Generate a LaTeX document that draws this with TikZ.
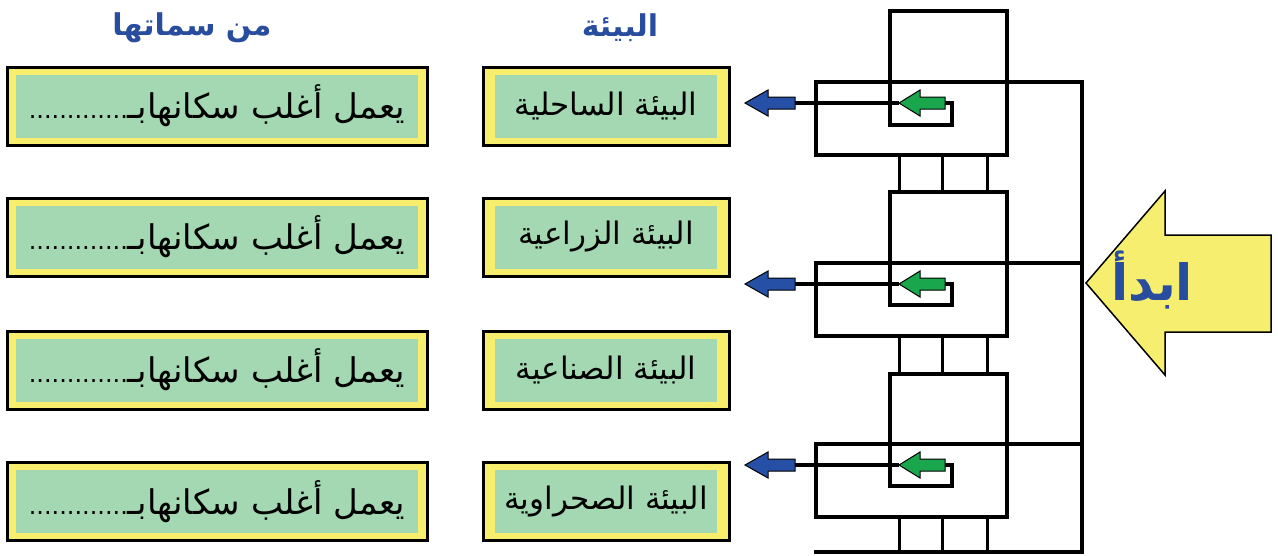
\documentclass[tikz,border=0pt]{standalone}
\usepackage{fontspec}
\newfontfamily\arabicfont[Script=Arabic]{DejaVu Sans}
\TeXXeTstate=1
\definecolor{boxyellow}{RGB}{246,238,108}
\definecolor{boxgreen}{RGB}{163,216,178}
\definecolor{hdrblue}{RGB}{40,76,158}
\definecolor{arrblue}{RGB}{38,80,165}
\definecolor{arrgreen}{RGB}{26,166,76}
\definecolor{bigyellow}{RGB}{246,238,110}
\begin{document}
\begin{tikzpicture}[x=1pt,y=-1pt,
  outerbox/.style={draw=black, line width=3pt, fill=boxyellow, inner sep=0pt},
  innerbox/.style={fill=boxgreen, inner sep=0pt, font=\arabicfont\fontsize{34}{38}\selectfont},
  envtext/.style={font=\arabicfont\fontsize{31}{36}\selectfont},
  header/.style={text=hdrblue, font=\arabicfont\bfseries\fontsize{30}{34}\selectfont},
  maze/.style={line width=4pt, line join=miter, line cap=rect},
  rung/.style={line width=3pt},
  blockarrow/.style={draw=black, line width=1pt, line join=miter}]
\useasboundingbox (0,0) rectangle (1278,555);

% headers
\node[header] (h1) at (192,28) {\beginR من سماتها\endR};
\node[header] (h2) at (620,28) {\beginR البيئة\endR};

% left and middle boxes
\foreach \r/\y/\t in {1/106/الساحلية, 2/237/الزراعية, 3/370/الصناعية, 4/501.5/الصحراوية}{
  \node[outerbox, minimum width=420, minimum height=78] (s\r) at (217,\y) {};
  \node[innerbox, minimum width=402, minimum height=63] (si\r) at (s\r) {{\fontsize{24}{28}\selectfont .............}\beginR يعمل أغلب سكانهابـ\endR};
  \node[outerbox, minimum width=246, minimum height=78] (e\r) at (606,\y) {};
  \node[innerbox, envtext, minimum width=222, minimum height=63] (ei\r) at (e\r) {\beginR البيئة \t\endR};
}

% maze
\coordinate (busTop) at (1082,82);
\coordinate (busBot) at (1082,552);
\coordinate (baseL) at (816,552);
\draw[maze] (1007,82) -- (busTop) -- (busBot) -- (baseL);
\foreach \i/\T/\B/\Y/\IB/\BB/\N in {1/11/82/103/125/155/192, 2/192/263/284/305/336/374, 3/374/444/465/486/517/552}{
  \draw[maze] (940,\Y) -- (952,\Y) -- (952,\IB) -- (890,\IB) -- (890,\T) -- (1007,\T) -- (1007,\B);
  \draw[maze] (816,\B) rectangle (1007,\BB);
  \draw[maze] (1007,\B) -- (1082,\B);
  \foreach \x in {899,942,987}{
    \draw[rung] (\x,\BB) -- (\x,\N);
  }
  \coordinate (gtip\i) at (899,\Y);
  \coordinate (btail\i) at (795,\Y);
  \draw[maze, line cap=butt] (gtip\i) -- (btail\i);
  \draw[blockarrow, fill=arrgreen] (gtip\i) -- (920,{\Y-13}) -- (920,{\Y-6}) -- (945,{\Y-6}) -- (945,{\Y+6}) -- (920,{\Y+6}) -- (920,{\Y+13}) -- cycle;
  \draw[blockarrow, fill=arrblue] (745,\Y) -- (768,{\Y-13}) -- (768,{\Y-6}) -- (795,{\Y-6}) -- (795,{\Y+6}) -- (768,{\Y+6}) -- (768,{\Y+13}) -- cycle;
}

% start arrow
\draw[blockarrow, line width=1.5pt, fill=bigyellow] (1086,283) -- (1165,191) -- (1165,235) -- (1271,235) -- (1271,332) -- (1165,332) -- (1165,375) -- cycle;
\node[text=hdrblue, font=\arabicfont\bfseries\fontsize{50}{56}\selectfont] (start) at (1152,280) {ابدأ};
\end{tikzpicture}
\end{document}
